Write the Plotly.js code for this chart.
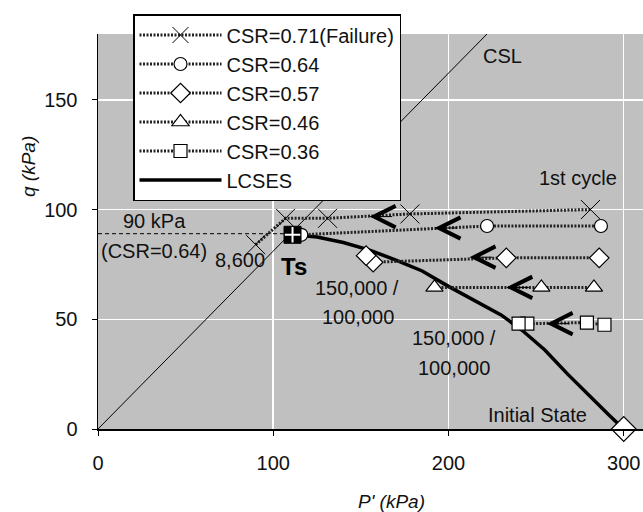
<!DOCTYPE html>
<html><head><meta charset="utf-8">
<script src="https://cdn.plot.ly/plotly-3.0.1.min.js"></script>
<style>html,body{margin:0;padding:0;background:#fff;}#chart{width:643px;height:512px;}</style>
</head><body><div id="chart"></div>
<script>
// Stress paths (p' in kPa, q in kPa)
const csr071P = [281, 178, 131, 107, 90];
const csr071Q = [100, 98, 96, 96, 84];
const csr064P = [287, 222, 116];
const csr064Q = [92.5, 92.5, 88.5];
const csr057P = [286, 233, 157, 153];
const csr057Q = [78, 78, 76, 79];
const csr046P = [283, 253, 192];
const csr046Q = [64.5, 64.5, 64.5];
const csr036P = [289, 279, 245, 240];
const csr036Q = [47.5, 48.5, 48, 48];
const lcsesP = [111, 125, 140, 155, 170, 185, 200, 215, 230, 242, 255, 268, 281, 292, 300];
const lcsesQ = [88.5, 87.5, 85, 81.5, 77, 72, 65, 58.5, 52, 45, 36, 25, 14.5, 6, 0];
const cslP = [0, 222];
const cslQ = [0, 180];
const level90P = [0, 110];
const level90Q = [89, 89];
const tsP = [111];
const tsQ = [88.5];
const initP = [300];
const initQ = [0];
// direction arrows on the stress paths
const arrowP = [155, 192, 212, 233, 256];
const arrowQ = [96.8, 91.6, 78.3, 64.5, 48];
// axis ticks
const xTicks = [0, 100, 200, 300];
const yTicks = [0, 50, 100, 150];

const FONT = 'Liberation Sans, Arial, sans-serif';
const wavy = {color: '#222', width: 3, dash: '2px,1.5px'};
const openMk = (sym, size) => ({symbol: sym, size: size, color: '#fff', line: {color: '#000', width: 1.2}});

const traces = [
  {x: cslP, y: cslQ, mode: 'lines', line: {color: '#000', width: 1}, showlegend: false, hoverinfo: 'skip'},
  {x: level90P, y: level90Q, mode: 'lines', line: {color: '#000', width: 1, dash: '4px,3px'}, showlegend: false, hoverinfo: 'skip'},
  {x: lcsesP, y: lcsesQ, name: 'LCSES', mode: 'lines', line: {color: '#000', width: 3.5}, legendrank: 6},
  {x: csr071P, y: csr071Q, name: 'CSR=0.71(Failure)', mode: 'lines+markers', line: wavy,
   marker: {symbol: 'x-thin-open', size: 19, color: '#000', line: {color: '#000', width: 1}}, legendrank: 1},
  {x: csr064P, y: csr064Q, name: 'CSR=0.64', mode: 'lines+markers', line: wavy, marker: openMk('circle', 13), legendrank: 2},
  {x: csr057P, y: csr057Q, name: 'CSR=0.57', mode: 'lines+markers', line: wavy, marker: openMk('diamond', 15), legendrank: 3},
  {x: csr046P, y: csr046Q, name: 'CSR=0.46', mode: 'lines+markers', line: wavy, marker: openMk('triangle-up', 15), legendrank: 4},
  {x: csr036P, y: csr036Q, name: 'CSR=0.36', mode: 'lines+markers', line: wavy, marker: openMk('square', 13), legendrank: 5},
  {x: initP, y: initQ, mode: 'markers', marker: openMk('diamond', 19), showlegend: false, cliponaxis: false},
  {x: tsP, y: tsQ, mode: 'markers', marker: {symbol: 'square', size: 17, color: '#000', line: {color: '#000', width: 1}}, showlegend: false},
  {x: tsP, y: tsQ, mode: 'markers', marker: {symbol: 'cross-thin-open', size: 11, color: '#fff', line: {color: '#fff', width: 2}}, showlegend: false}
];

const txt = (x, y, text, extra) => Object.assign({x: x, y: y, xref: 'x', yref: 'y', text: text, showarrow: false,
  font: {family: FONT, size: 20, color: '#111'}}, extra || {});

const annotations = [
  txt(231, 170, 'CSL'),
  txt(274, 114.5, '1st cycle'),
  txt(32.5, 94.6, '90 kPa'),
  txt(32, 81, '(CSR=0.64)'),
  txt(81, 77, '8,600'),
  txt(112, 74, '<b>Ts</b>', {font: {family: FONT, size: 24, color: '#000'}}),
  txt(148, 64.4, '150,000 /'),
  txt(148.5, 51, '100,000'),
  txt(203, 41.6, '150,000 /'),
  txt(203, 28, '100,000'),
  txt(251, 6.4, 'Initial State'),
  {xref: 'paper', yref: 'paper', x: (391 - 98) / 545, y: -(501 - 429) / 395, text: "<i>P' (kPa)</i>", showarrow: false,
   font: {family: FONT, size: 19, color: '#111'}, xanchor: 'center', yanchor: 'middle'},
  {xref: 'paper', yref: 'paper', x: -(98 - 28) / 545, y: (429 - 167) / 395, text: '<i>q (kPa)</i>', showarrow: false, textangle: -90,
   font: {family: FONT, size: 19, color: '#111'}, xanchor: 'center', yanchor: 'middle'}
];
arrowP.forEach((p, i) => annotations.push({x: p, y: arrowQ[i], xref: 'x', yref: 'y', showarrow: true, text: '',
  ax: 24, ay: 0, arrowhead: 5, arrowsize: 4.2, arrowwidth: 1, arrowcolor: '#000'}));

const layout = {
  width: 643, height: 512,
  margin: {l: 98, r: 0, t: 34, b: 83},
  paper_bgcolor: '#fff', plot_bgcolor: '#c0c0c0',
  font: {family: FONT, size: 20, color: '#111'},
  xaxis: {range: [0, 311], tickvals: xTicks, ticktext: xTicks.map(String), showgrid: true, gridcolor: '#fff', gridwidth: 1.5,
          zeroline: false, showline: true, linecolor: '#000', linewidth: 1.5, ticks: 'outside', ticklen: 5, tickcolor: '#000',
          ticklabelstandoff: 10, fixedrange: true},
  yaxis: {range: [0, 180], tickvals: yTicks, ticktext: yTicks.map(String), showgrid: true, gridcolor: '#fff', gridwidth: 1.5,
          zeroline: false, showline: true, linecolor: '#000', linewidth: 1.5, ticks: 'outside', ticklen: 5, tickcolor: '#000',
          ticklabelstandoff: 10, fixedrange: true},
  legend: {x: (133 - 98) / 545, y: (429 - 14) / 395, xanchor: 'left', yanchor: 'top', bgcolor: '#fff',
           bordercolor: '#000', borderwidth: 1.5, font: {family: FONT, size: 20, color: '#111'}, itemwidth: 82, tracegroupgap: 0},
  annotations: annotations,
  showlegend: true
};

Plotly.newPlot('chart', traces, layout, {displayModeBar: false, staticPlot: true});
</script>
</body></html>
